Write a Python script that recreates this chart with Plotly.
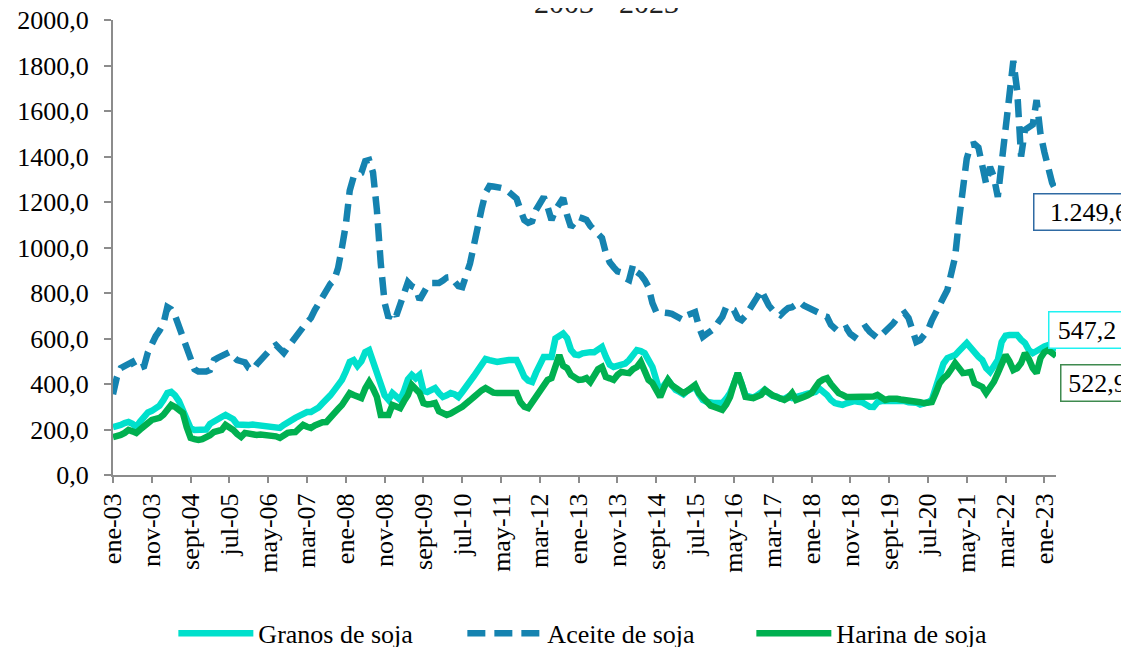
import plotly.graph_objects as go

# meses en español, como en el eje del original
month_names = ["ene", "feb", "mar", "abr", "may", "jun",
               "jul", "ago", "sept", "oct", "nov", "dic"]
months = [f"{m}-{y % 100:02d}" for y in range(2003, 2024) for m in month_names][:244]

granos = [
    211, 212, 220, 228, 233, 225, 211, 235, 255, 275, 282, 294,
    305, 330, 360, 365, 350, 325, 286, 240, 205, 198, 198, 198,
    200, 225, 238, 242, 255, 264, 258, 245, 222, 220, 220, 220,
    222, 220, 218, 220, 218, 211, 208, 207, 220, 233, 242, 251,
    260, 272, 277, 277, 285, 297, 315, 330, 350, 372, 395, 418,
    455, 497, 505, 480, 500, 540, 549, 500, 440, 400, 350, 330,
    360, 345, 330, 370, 420, 440, 425, 440, 370, 365, 375, 382,
    360, 343, 350, 360, 355, 343, 365, 385, 410, 435, 460, 490,
    510, 505, 498, 497, 500, 505, 505, 505, 505, 470, 431, 415,
    409, 450, 480, 519, 519, 519, 600, 615, 622, 602, 550, 530,
    527, 535, 540, 540, 540, 552, 563, 520, 485, 475, 480, 483,
    490, 505, 525, 549, 545, 536, 505, 475, 418, 360, 395, 418,
    395, 374, 365, 355, 370, 380, 387, 355, 330, 322, 316, 316,
    316, 316, 335, 360, 400, 448, 400, 350, 345, 340, 350, 360,
    375, 360, 348, 345, 335, 335, 345, 338, 345, 350, 352, 358,
    360, 365, 380, 370, 352, 330, 316, 312, 308, 315, 320, 325,
    322, 320, 310, 300, 299, 320, 325, 325, 325, 330, 330, 328,
    325, 320, 320, 318, 310, 312, 320, 330, 380, 430, 490, 514,
    520, 527, 545, 560, 580, 560, 536, 520, 505, 470, 453, 480,
    505, 585, 612, 615, 615, 615, 595, 580, 549, 536, 545, 558,
    565, 571, 560, 547.2,
]

aceite = [
    355, 430, 470, 480, 495, 497, 465, 470, 478, 540, 585, 610,
    635, 665, 738, 728, 700, 650, 600, 558, 515, 465, 455, 453,
    455, 462, 505, 515, 525, 535, 540, 520, 505, 500, 495, 470,
    462, 485, 505, 525, 540, 560, 571, 550, 536, 560, 585, 605,
    630, 650, 670, 690, 725, 756, 790, 815, 840, 857, 910, 1000,
    1100, 1250, 1310, 1320, 1328, 1380, 1385, 1330, 1165, 930, 756, 690,
    720, 700, 745, 800, 848, 830, 822, 770, 800, 830, 844, 845,
    844, 855, 868, 870, 850, 830, 826, 870, 930, 1010, 1100, 1170,
    1240, 1270, 1268, 1262, 1262, 1258, 1245, 1232, 1215, 1165, 1120, 1108,
    1115, 1165, 1195, 1222, 1178, 1121, 1165, 1195, 1218, 1143, 1090, 1110,
    1134, 1128, 1121, 1095, 1075, 1055, 1042, 976, 935, 914, 895, 890,
    865, 857, 923, 892, 880, 857, 826, 756, 716, 716, 716, 712,
    708, 700, 690, 681, 703, 710, 716, 651, 607, 620, 629, 645,
    672, 695, 738, 730, 725, 690, 681, 700, 725, 755, 782, 813,
    775, 745, 725, 710, 703, 720, 734, 738, 748, 760, 745, 738,
    730, 725, 712, 700, 695, 660, 640, 629, 638, 646, 620, 607,
    630, 640, 651, 630, 612, 602, 615, 630, 646, 665, 688, 700,
    712, 690, 646, 585, 593, 615, 637, 680, 710, 738, 780, 813,
    888, 958, 1120, 1266, 1390, 1451, 1455, 1440, 1341, 1280, 1354, 1310,
    1222, 1380, 1560, 1700, 1820, 1690, 1400, 1517, 1530, 1540, 1648, 1500,
    1420, 1341, 1284, 1249.6,
]

harina = [
    167, 170, 176, 185, 198, 192, 185, 200, 211, 228, 242, 248,
    251, 265, 290, 308, 299, 285, 273, 210, 163, 158, 154, 158,
    163, 175, 189, 195, 198, 220, 210, 198, 180, 167, 185, 180,
    176, 176, 178, 176, 176, 176, 170, 163, 175, 185, 188, 189,
    205, 220, 212, 207, 218, 229, 232, 233, 255, 273, 290, 308,
    335, 360, 352, 345, 338, 380, 409, 380, 343, 264, 264, 264,
    308, 300, 294, 325, 352, 396, 380, 360, 316, 310, 312, 316,
    280, 270, 264, 270, 277, 290, 300, 310, 328, 343, 360, 372,
    382, 370, 362, 360, 360, 360, 360, 360, 360, 320, 300, 294,
    320, 338, 370, 387, 418, 426, 470, 527, 480, 470, 440, 430,
    418, 420, 426, 409, 440, 465, 475, 431, 425, 418, 440, 453,
    450, 448, 465, 475, 497, 460, 418, 404, 370, 343, 385, 418,
    395, 382, 370, 360, 370, 385, 396, 360, 338, 320, 305, 299,
    290, 286, 310, 343, 400, 448, 400, 343, 340, 338, 345, 352,
    374, 360, 350, 343, 338, 330, 340, 360, 330, 340, 343, 350,
    360, 385, 409, 420, 426, 400, 374, 360, 352, 343, 343, 343,
    343, 342, 340, 338, 345, 352, 340, 330, 335, 338, 335, 332,
    330, 330, 330, 328, 320, 316, 318, 321, 360, 404, 425, 440,
    465, 492, 470, 448, 450, 453, 404, 395, 387, 360, 380, 410,
    448, 490, 527, 500, 461, 470, 492, 536, 510, 470, 448, 514,
    540, 549, 535, 522.9,
]

y_ticks = [0, 200, 400, 600, 800, 1000, 1200, 1400, 1600, 1800, 2000]
x_ticks = months[::10]

FONT = "Liberation Serif, Times New Roman, serif"
C_GRANOS = "#00E0CC"
C_ACEITE = "#1583B0"
C_HARINA = "#00B050"
AXIS_GREY = "#8C8C8C"


def es_num(v):
    # 1249.6 -> "1.249,6"
    return f"{v:,.1f}".replace(",", "X").replace(".", ",").replace("X", ".")


fig = go.Figure()
fig.add_trace(go.Scatter(x=months, y=granos, name="Granos de soja", mode="lines",
                         line=dict(color=C_GRANOS, width=6.5)))
fig.add_trace(go.Scatter(x=months, y=aceite, name="Aceite de soja", mode="lines",
                         line=dict(color=C_ACEITE, width=6.5, dash="18px,9px")))
fig.add_trace(go.Scatter(x=months, y=harina, name="Harina de soja", mode="lines",
                         line=dict(color=C_HARINA, width=6.5)))

# etiquetas del ultimo valor
last_labels = [
    (aceite[-1], "#2F6AA3", 0.9756, 0.5791, 103),
    (granos[-1], "#20F2F2", 0.9915, 0.3176, 69),
    (harina[-1], "#3F8A4F", 1.0043, 0.2011, 66),
]
for val, col, ax, ay, w in last_labels:
    fig.add_annotation(text=es_num(val), xref="paper", yref="paper", x=ax, y=ay,
                       xanchor="left", yanchor="middle", showarrow=False,
                       width=w, bgcolor="white", bordercolor=col, borderwidth=1.5,
                       borderpad=3, font=dict(family=FONT, size=26, color="black"))

fig.add_annotation(text="2003 - 2023", xref="paper", yref="paper", x=0.523, y=0.997,
                   xanchor="center", yanchor="bottom", showarrow=False,
                   font=dict(family=FONT, size=30, color="#222222"))

fig.update_xaxes(type="category", range=[0, len(months) - 1],
                 tickmode="array", tickvals=x_ticks, ticktext=x_ticks,
                 tickangle=-90, ticks="outside", ticklen=6, tickwidth=2,
                 tickcolor=AXIS_GREY, showline=True, linecolor=AXIS_GREY,
                 linewidth=2, showgrid=False, zeroline=False,
                 ticklabeloverflow="allow",
                 tickfont=dict(family=FONT, size=26, color="black"))
fig.update_yaxes(range=[0, 2000], tickvals=y_ticks, tickformat=".1f",
                 ticks="outside", ticklen=7, tickwidth=2, tickcolor=AXIS_GREY,
                 showline=True, linecolor=AXIS_GREY, linewidth=2,
                 showgrid=False, zeroline=False, ticklabelstandoff=10,
                 ticklabeloverflow="allow",
                 tickfont=dict(family=FONT, size=26, color="black"))

# la pagina tiene 8px de margen en el body: se compensa en los margenes
fig.update_layout(
    width=1129, height=647, separators=",.",
    margin=dict(l=105, r=81, t=12, b=180, autoexpand=False),
    plot_bgcolor="white", paper_bgcolor="white",
    font=dict(family=FONT, size=26, color="black"),
    showlegend=True,
    legend=dict(orientation="h", x=0.064, y=-0.348, xanchor="left", yanchor="middle",
                itemwidth=75, entrywidth=199, font=dict(family=FONT, size=26, color="black"),
                bgcolor="rgba(0,0,0,0)", tracegroupgap=0),
)

fig.write_html("out.html")
